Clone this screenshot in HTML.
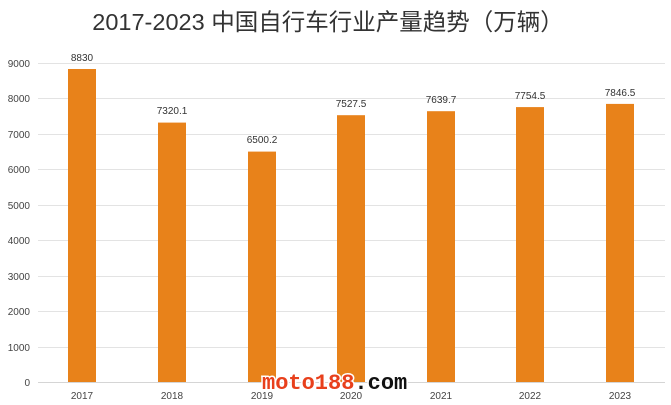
<!DOCTYPE html>
<html><head><meta charset="utf-8"><style>
body{margin:0;background:#fff;}
svg{display:block;}
</style></head><body>
<svg width="671" height="405" xmlns="http://www.w3.org/2000/svg" font-family="Liberation Sans, sans-serif">
<text x="328" y="30" text-anchor="middle" font-size="23.5" fill="#333" font-family="Liberation Sans, Noto Sans CJK SC, sans-serif">2017-2023 中国自行车行业产量趋势（万辆）</text>
<g stroke="#e3e3e3" stroke-width="1">
<line x1="38" x2="665" y1="63.5" y2="63.5"/><line x1="38" x2="665" y1="98.5" y2="98.5"/><line x1="38" x2="665" y1="134.5" y2="134.5"/><line x1="38" x2="665" y1="169.5" y2="169.5"/><line x1="38" x2="665" y1="205.5" y2="205.5"/><line x1="38" x2="665" y1="240.5" y2="240.5"/><line x1="38" x2="665" y1="276.5" y2="276.5"/><line x1="38" x2="665" y1="311.5" y2="311.5"/><line x1="38" x2="665" y1="347.5" y2="347.5"/><line x1="38" x2="665" y1="382.5" y2="382.5" stroke="#d5d5d5"/>
</g>
<g font-size="10" fill="#444" text-anchor="end">
<text x="30" y="67">9000</text><text x="30" y="102">8000</text><text x="30" y="138">7000</text><text x="30" y="173">6000</text><text x="30" y="209">5000</text><text x="30" y="244">4000</text><text x="30" y="280">3000</text><text x="30" y="315">2000</text><text x="30" y="351">1000</text><text x="30" y="386">0</text>
</g>
<g fill="#e8821a">
<rect x="68" y="69" width="28" height="313"/>
<rect x="158" y="122.6" width="28" height="259.4"/>
<rect x="248" y="151.6" width="28" height="230.4"/>
<rect x="337" y="115.2" width="28" height="266.8"/>
<rect x="427" y="111.2" width="28" height="270.8"/>
<rect x="516" y="107.1" width="28" height="274.9"/>
<rect x="606" y="103.9" width="28" height="278.1"/>
</g>
<g font-size="10" fill="#333" text-anchor="middle">
<text x="82" y="61">8830</text><text x="172" y="114">7320.1</text><text x="262" y="143">6500.2</text><text x="351" y="107">7527.5</text><text x="441" y="103">7639.7</text><text x="530" y="99">7754.5</text><text x="620" y="96">7846.5</text>
</g>
<g font-size="10" fill="#444" text-anchor="middle">
<text x="82" y="399">2017</text><text x="172" y="399">2018</text><text x="262" y="399">2019</text><text x="351" y="399">2020</text><text x="441" y="399">2021</text><text x="530" y="399">2022</text><text x="620" y="399">2023</text>
</g>
<text x="262" y="389" font-family="Liberation Mono, monospace" font-size="22" font-weight="bold" stroke="#fff" stroke-width="3" paint-order="stroke"><tspan fill="#e8401c">moto188</tspan><tspan fill="#111">.com</tspan></text>
</svg>
</body></html>
